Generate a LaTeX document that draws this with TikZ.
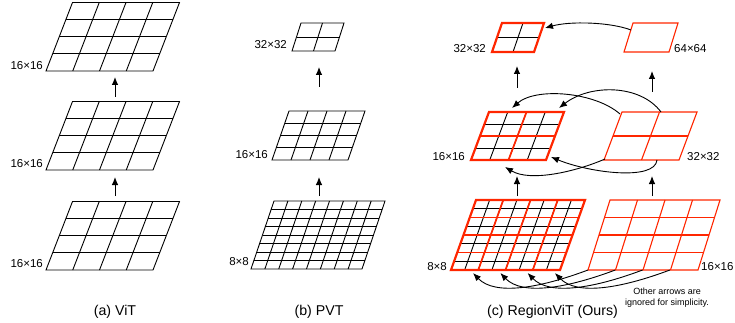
\documentclass[tikz,border=0pt]{standalone}
\usepackage{fontspec}
\setmainfont{Liberation Sans}
\usetikzlibrary{arrows.meta,calc}
\definecolor{rvred}{RGB}{255,38,0}
\tikzset{
  gline/.style={line width=0.9pt, black},
  rthick/.style={line width=2.2pt, rvred, line join=miter},
  rinner/.style={line width=1.7pt, rvred},
  rthin/.style={line width=1.1pt, rvred, line join=miter},
  conn/.style={line width=0.9pt, black, -{Latex[length=8pt,width=6.5pt]}},
  lbl/.style={font=\fontsize{11.5}{13}\selectfont, inner sep=0pt},
  captxt/.style={font=\fontsize{14.2}{16}\selectfont, inner sep=0pt},
  notetxt/.style={font=\fontsize{9}{11}\selectfont, inner sep=0pt, align=center},
}
% #1 TLx, #2 TLy, #3 W, #4 H, #5 skew, #6 n, #7 step, #8 style
\newcommand\gridlines[8]{%
  \pgfmathtruncatemacro\gnn{#6/#7-1}%
  \foreach \j in {1,...,\gnn}{%
    \pgfmathsetmacro\gf{\j*#7/#6}%
    \draw[#8] ({#1-\gf*#5},{#2+\gf*#4}) -- ({#1+#3-\gf*#5},{#2+\gf*#4});
    \draw[#8] ({#1+\gf*#3},{#2}) -- ({#1+\gf*#3-#5},{#2+#4});
  }}
% #1 TLx, #2 TLy, #3 W, #4 H, #5 skew, #6 style
\newcommand\gridframe[6]{%
  \draw[#6] (#1,#2) -- ({#1+#3},#2) -- ({#1+#3-#5},{#2+#4}) -- ({#1-#5},{#2+#4}) -- cycle;}
\begin{document}
\begin{tikzpicture}[x=1pt,y=-1pt]
\useasboundingbox (0,0) rectangle (735,323);

% ---------- (a) ViT ----------
\foreach \ty in {2.5,101.5,201.5}{
  \gridlines{72.5}{\ty}{107}{68.5}{26.5}{4}{1}{gline}
  \gridframe{72.5}{\ty}{107}{68.5}{26.5}{gline}
}
\node[lbl, anchor=east] (la1) at (43,66) {16×16};
\node[lbl, anchor=east] (la2) at (43,164) {16×16};
\node[lbl, anchor=east] (la3) at (43,264) {16×16};
\coordinate (a1s) at (115,97);  \coordinate (a1e) at (115,77);
\coordinate (a2s) at (115,196); \coordinate (a2e) at (115,177);
\draw[conn] (a1s) -- (a1e);
\draw[conn] (a2s) -- (a2e);
\node[captxt] (capa) at (115,312) {(a) ViT};

% ---------- (b) PVT ----------
\gridlines{301}{23}{43}{28}{9}{2}{1}{gline}
\gridframe{301}{23}{43}{28}{9}{gline}
\gridlines{289}{111}{76}{49}{17}{4}{1}{gline}
\gridframe{289}{111}{76}{49}{17}{gline}
\gridlines{274}{201}{111}{68}{23}{8}{1}{gline}
\gridframe{274}{201}{111}{68}{23}{gline}
\node[lbl, anchor=east] (lb1) at (287,45) {32×32};
\node[lbl, anchor=east] (lb2) at (268,155) {16×16};
\node[lbl, anchor=east] (lb3) at (249,262) {8×8};
\coordinate (b1s) at (319,87);  \coordinate (b1e) at (319,67);
\coordinate (b2s) at (319,196); \coordinate (b2e) at (319,177);
\draw[conn] (b1s) -- (b1e);
\draw[conn] (b2s) -- (b2e);
\node[captxt] (capb) at (319,312) {(b) PVT};

% ---------- (c) RegionViT ----------
\gridlines{502}{23}{42}{29}{10}{2}{1}{gline}
\gridframe{502}{23}{42}{29}{10}{rthick}
\gridframe{633}{23}{45}{29}{9}{rthin}
\gridlines{489}{112}{75}{48}{18}{4}{1}{gline}
\gridlines{489}{112}{75}{48}{18}{4}{2}{rinner}
\gridframe{489}{112}{75}{48}{18}{rthick}
\gridlines{622}{112}{75}{48}{18}{2}{1}{rthin}
\gridframe{622}{112}{75}{48}{18}{rthin}
\gridlines{476}{200}{109}{70}{25}{8}{1}{gline}
\gridlines{476}{200}{109}{70}{25}{8}{2}{rinner}
\gridframe{476}{200}{109}{70}{25}{rthick}
\gridlines{610}{200}{110}{70}{22}{4}{1}{rthin}
\gridframe{610}{200}{110}{70}{22}{rthin}

\node[lbl, anchor=east] (lc1) at (486,49) {32×32};
\node[lbl, anchor=west] (lc2) at (674,49) {64×64};
\node[lbl, anchor=east] (lc3) at (465,157) {16×16};
\node[lbl, anchor=west] (lc4) at (687,157) {32×32};
\node[lbl, anchor=east] (lc5) at (447,267) {8×8};
\node[lbl, anchor=west] (lc6) at (701,267) {16×16};

\coordinate (c1s) at (517,88);  \coordinate (c1e) at (517,66);
\coordinate (c2s) at (652,92);  \coordinate (c2e) at (652,71);
\coordinate (c3s) at (517,196); \coordinate (c3e) at (517,176);
\coordinate (c4s) at (652,196); \coordinate (c4e) at (652,176);
\draw[conn] (c1s) -- (c1e);
\draw[conn] (c2s) -- (c2e);
\draw[conn] (c3s) -- (c3e);
\draw[conn] (c4s) -- (c4e);

\coordinate (t1s) at (631,30); \coordinate (t1e) at (545,28);
\draw[conn] (t1s) .. controls (610,22) and (570,21) .. (t1e);

\coordinate (mAs) at (620,114); \coordinate (mAe) at (512,108);
\draw[conn] (mAs) .. controls (595,92) and (536,87) .. (mAe);
\coordinate (mBs) at (661,112); \coordinate (mBe) at (559,108);
\draw[conn] (mBs) .. controls (640,84) and (590,84) .. (mBe);
\coordinate (mCs) at (605,159); \coordinate (mCe) at (505,167);
\draw[conn] (mCs) .. controls (575,172) and (530,182) .. (mCe);
\coordinate (mDs) at (657,160); \coordinate (mDe) at (551,157);
\draw[conn] (mDs) .. controls (655,181) and (590,173) .. (mDe);

\foreach \k in {0,1,2,3}{
  \pgfmathsetmacro\dx{\k*27.3}
  \coordinate (bs\k) at ({588+\dx},270);
  \coordinate (bt\k) at ({473+\dx},273);
  \draw[conn] (bs\k) .. controls ({540+\dx},288) and ({495+\dx},296) .. (bt\k);
}
\node[notetxt] (nt) at (667,297.5) {Other arrows are\\ignored for simplicity.};
\node[captxt] (capc) at (552.5,312) {(c) RegionViT (Ours)};
\end{tikzpicture}
\end{document}
